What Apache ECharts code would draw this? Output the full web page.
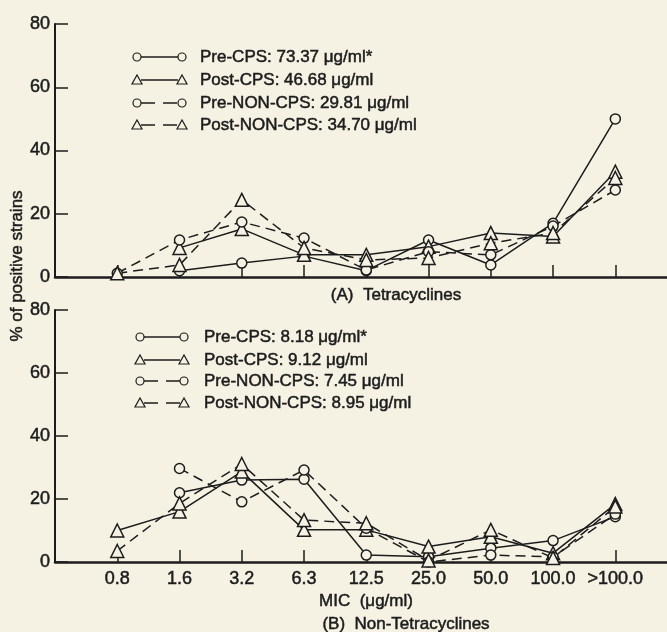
<!DOCTYPE html>
<html>
<head>
<meta charset="utf-8">
<script src="https://cdn.jsdelivr.net/npm/echarts@6/dist/echarts.min.js"></script>
<style>
  html, body { margin: 0; padding: 0; background: #f5f2e4; }
</style>
</head>
<body>
<div id="main" style="width: 667px;height:632px;"></div>
<script type="text/javascript">
    // categories on the MIC axis
    var categories = ['0.8', '1.6', '3.2', '6.3', '12.5', '25.0', '50.0', '100.0', '>100.0'];
    var seriesNames = ['Pre-CPS', 'Post-CPS', 'Pre-NON-CPS', 'Post-NON-CPS'];
    var tetraMIC = ['73.37 μg/ml*', '46.68 μg/ml', '29.81 μg/ml', '34.70 μg/ml'];
    var nonTetraMIC = ['8.18 μg/ml*', '9.12 μg/ml', '7.45 μg/ml', '8.95 μg/ml'];

    // (A) Tetracyclines, % of positive strains
    var tetraPreCPS = [null, 2, 4.4, 6.6, 2, 11.7, 3.8, 17, 50];
    var tetraPostCPS = [null, 9.2, 15.2, 7, 7, 9.6, 13.9, 12.8, 33.3];
    var tetraPreNon = [1.2, 11.7, 17.4, 12.3, 2.2, 8, 7, 16.1, 27.5];
    var tetraPostNon = [1.2, 3.8, 24.4, 9.2, 5.4, 6, 10.7, 13.9, 31.3];

    // (B) Non-Tetracyclines
    var nonPreCPS = [null, 22, 26, 26.3, 2.2, 1.7, 4.4, 6.8, 14.4];
    var nonPostCPS = [10, 16, 28.7, 10.2, 10.2, 4.9, 8, 2.8, 18.4];
    var nonPreNon = [null, 29.7, 19.1, 29.2, 10.7, 0, 2.2, 1.6, 15.2];
    var nonPostNon = [3.5, 18.6, 31.1, 13.3, 12.3, 0.5, 10.2, 1.3, 17.6];

    var ink = '#1c1c1c';
    var paper = '#f5f2e4';
    var font = '"Liberation Sans", Arial, sans-serif';
    var dash = [10, 6];

    var idx = categories.map(function (c, i) { return i; });

    // solid/dashed + circle/triangle for the four groups
    var styles = [
        {solid: true, symbol: 'circle'},
        {solid: true, symbol: 'triangle'},
        {solid: false, symbol: 'circle'},
        {solid: false, symbol: 'triangle'}
    ];

    // a thin outline makes the text look like the heavy print of the scan
    var heavy = {textBorderColor: ink, textBorderWidth: 0.5};
    var heavyG = {stroke: ink, lineWidth: 0.5};

    function makeSeries(name, values, g, st) {
        return {
            name: name,
            type: 'line',
            xAxisIndex: g,
            yAxisIndex: g,
            data: values.map(function (v, i) { return v == null ? null : [i, v]; })
                        .filter(function (p) { return p; }),
            symbol: st.symbol,
            symbolSize: st.symbol === 'circle' ? 10 : 13,
            lineStyle: {color: ink, width: 1.5, type: st.solid ? 'solid' : dash},
            itemStyle: {color: paper, borderColor: ink, borderWidth: 1.5},
            silent: true
        };
    }

    function xAxis(g, showLabel) {
        return {
            type: 'value',
            gridIndex: g,
            min: -1,
            max: 8.83,
            axisLine: {show: true, onZero: false, lineStyle: {color: ink, width: 2.5}},
            axisTick: {show: true, inside: true, length: 12, customValues: idx,
                       lineStyle: {color: ink, width: 1.5}},
            axisLabel: Object.assign({show: showLabel, customValues: idx, color: ink, fontSize: 18,
                        fontFamily: font, margin: 8,
                        formatter: function (v) { return categories[v] || ''; }}, heavy),
            splitLine: {show: false}
        };
    }

    function yAxis(g) {
        return {
            type: 'value',
            gridIndex: g,
            min: 0,
            max: 80,
            interval: 20,
            axisLine: {show: true, onZero: false, lineStyle: {color: ink, width: 2}},
            axisTick: {show: true, inside: true, length: 13, lineStyle: {color: ink, width: 1.5}},
            axisLabel: Object.assign({color: ink, fontSize: 18, fontFamily: font, margin: 5}, heavy),
            splitLine: {show: false}
        };
    }

    // hand drawn legend rows: o——o  text
    function legendRows(x1, x2, xt, rows, mic) {
        var els = [];
        rows.forEach(function (y, k) {
            var st = styles[k];
            els.push({type: 'line', shape: {x1: x1 + 4, y1: y, x2: x2 - 4, y2: y},
                style: {stroke: ink, lineWidth: 1.5, lineDash: st.solid ? null : [14, 8]}});
            [x1, x2].forEach(function (x) {
                if (st.symbol === 'circle') {
                    els.push({type: 'circle', shape: {cx: x, cy: y, r: 4},
                        style: {fill: paper, stroke: ink, lineWidth: 1.2}, z: 2});
                } else {
                    els.push({type: 'polygon', shape: {points: [[x - 5, y + 4], [x + 5, y + 4], [x, y - 5]]},
                        style: {fill: paper, stroke: ink, lineWidth: 1.2}, z: 2});
                }
            });
            els.push({type: 'text', x: xt, y: y,
                style: Object.assign({text: seriesNames[k] + ': ' + mic[k], fill: ink,
                        font: '17px ' + font, textVerticalAlign: 'middle'}, heavyG)});
        });
        return els;
    }

    function caption(text, x, y, rot) {
        return {type: 'text', x: x, y: y, rotation: rot || 0,
            style: Object.assign({text: text, fill: ink, font: '17px ' + font,
                    textAlign: 'center', textVerticalAlign: 'middle'}, heavyG)};
    }

    var myChart = echarts.init(document.getElementById('main'));

    var graphics = []
        .concat(legendRows(137, 182, 200, [57, 80, 103, 125], tetraMIC))
        .concat(legendRows(140, 184, 204, [337, 360, 381, 403], nonTetraMIC))
        .concat([
            caption('(A)  Tetracyclines', 396, 295),
            caption('MIC  (μg/ml)', 366, 601),
            caption('(B)  Non-Tetracyclines', 406, 624),
            caption('% of positive strains', 17, 266, Math.PI / 2)
        ]);

    var option = {
        backgroundColor: paper,
        animation: false,
        grid: [
            {left: 55, right: 0, top: 24, height: 253, outerBoundsMode: 'none'},
            {left: 55, right: 0, top: 310, height: 252, outerBoundsMode: 'none'}
        ],
        xAxis: [xAxis(0, false), xAxis(1, true)],
        yAxis: [yAxis(0), yAxis(1)],
        graphic: graphics,
        series: [
            makeSeries(seriesNames[0], tetraPreCPS, 0, styles[0]),
            makeSeries(seriesNames[1], tetraPostCPS, 0, styles[1]),
            makeSeries(seriesNames[2], tetraPreNon, 0, styles[2]),
            makeSeries(seriesNames[3], tetraPostNon, 0, styles[3]),
            makeSeries(seriesNames[0], nonPreCPS, 1, styles[0]),
            makeSeries(seriesNames[1], nonPostCPS, 1, styles[1]),
            makeSeries(seriesNames[2], nonPreNon, 1, styles[2]),
            makeSeries(seriesNames[3], nonPostNon, 1, styles[3])
        ]
    };
    myChart.setOption(option);
</script>
</body>
</html>
